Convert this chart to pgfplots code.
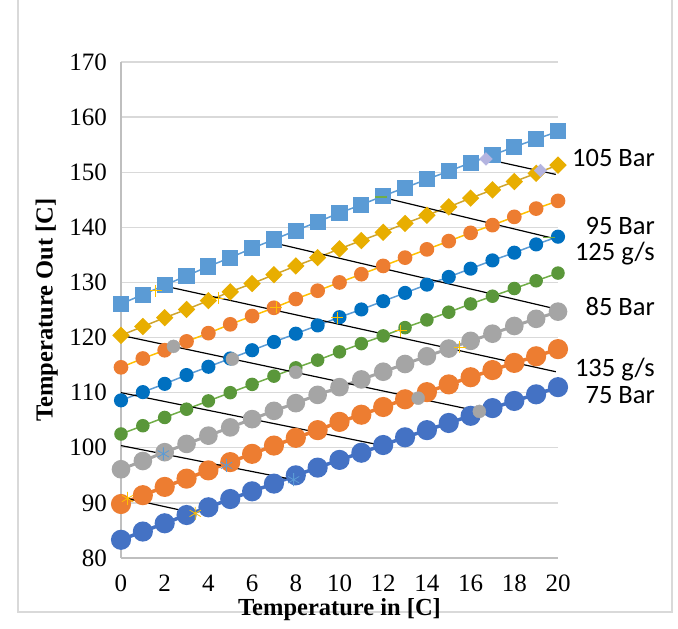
\documentclass[border=0pt]{standalone}
\usepackage{fontspec}
\setmainfont{Liberation Serif}
\newfontfamily\calibri{Carlito}
\usepackage{pgfplots}
\pgfplotsset{compat=1.18}
\definecolor{sA}{HTML}{5B9BD5}
\definecolor{sBm}{HTML}{E8AE00}
\definecolor{sBl}{HTML}{CFA52E}
\definecolor{sCm}{HTML}{ED7D31}
\definecolor{sCl}{HTML}{FFC000}
\definecolor{sDm}{HTML}{0070C0}
\definecolor{sDl}{HTML}{5B9BD5}
\definecolor{sEm}{HTML}{5A973A}
\definecolor{sEl}{HTML}{70AD47}
\definecolor{sF}{HTML}{A5A5A5}
\definecolor{sG}{HTML}{ED7D31}
\definecolor{sH}{HTML}{4472C4}
\definecolor{gridc}{HTML}{D9D9D9}
\definecolor{axc}{HTML}{BFBFBF}
\definecolor{framec}{HTML}{D9D9D9}
\definecolor{lilac}{HTML}{B4B4E0}
\begin{document}
\begin{tikzpicture}
\useasboundingbox (-121pt,-71pt) rectangle (557pt,558pt);
\draw[color=framec, line width=1.5pt] (-103pt,560pt) -- (-103pt,-54pt) -- (551pt,-54pt) -- (551pt,560pt);
\begin{axis}[
  at={(0pt,0pt)}, anchor=south west,
  scale only axis, width=437pt, height=496pt,
  xmin=0, xmax=20, ymin=80, ymax=170,
  xtick={0,2,...,20}, ytick={80,90,...,170},
  axis x line*=bottom, axis y line*=left,
  axis line style={draw=axc, line width=1.5pt},
  major tick length=0pt,
  ymajorgrids, major grid style={color=gridc, line width=1.3pt},
  /pgf/number format/assume math mode=true,
  tick label style={font=\fontsize{25}{28}\selectfont},
  yticklabel style={anchor=east, inner sep=0pt, xshift=-14pt},
  xticklabel style={anchor=north, inner sep=0pt, yshift=-17pt},
  xlabel={Temperature in [C]},
  ylabel={Temperature Out [C]},
  xlabel style={font=\bfseries\fontsize{24.5}{27}\selectfont, at={(axis description cs:0.5,-0.104)}, anchor=center, inner sep=0pt},
  ylabel style={font=\bfseries\fontsize{24.5}{27}\selectfont, at={(axis description cs:-0.17,0.5)}, anchor=center, inner sep=0pt},
  clip=false,
]
% series 1: squares
\addplot[color=sA, line width=1.5pt, mark=square*, mark size=7.3pt, mark options={fill=sA, draw=sA}] coordinates {
(0,126.1)(1,127.8)(2,129.5)(3,131.2)(4,132.9)(5,134.5)(6,136.2)(7,137.8)(8,139.4)(9,141.0)(10,142.6)(11,144.1)(12,145.7)(13,147.2)(14,148.7)(15,150.2)(16,151.7)(17,153.1)(18,154.6)(19,156.0)(20,157.4)};
% series 2: diamonds
\addplot[color=sBl, line width=1.5pt, mark=square*, mark size=5.4pt, mark options={fill=sBm, draw=sBm, rotate=45}] coordinates {
(0,120.4)(1,122.0)(2,123.6)(3,125.1)(4,126.7)(5,128.3)(6,129.8)(7,131.4)(8,133.0)(9,134.5)(10,136.1)(11,137.6)(12,139.1)(13,140.7)(14,142.2)(15,143.7)(16,145.3)(17,146.8)(18,148.3)(19,149.8)(20,151.3)};
% series 3
\addplot[color=sCl, line width=1.5pt, mark=*, mark size=6.6pt, mark options={fill=sCm, draw=sCm}] coordinates {
(0,114.6)(1,116.2)(2,117.7)(3,119.3)(4,120.8)(5,122.4)(6,123.9)(7,125.4)(8,127.0)(9,128.5)(10,130.0)(11,131.5)(12,133.0)(13,134.5)(14,136.0)(15,137.5)(16,139.0)(17,140.4)(18,141.9)(19,143.4)(20,144.8)};
% series 4
\addplot[color=sDl, line width=1.5pt, mark=*, mark size=6.3pt, mark options={fill=sDm, draw=sDm}] coordinates {
(0,108.6)(1,110.1)(2,111.6)(3,113.2)(4,114.7)(5,116.2)(6,117.7)(7,119.2)(8,120.7)(9,122.2)(10,123.7)(11,125.1)(12,126.6)(13,128.1)(14,129.6)(15,131.0)(16,132.5)(17,134.0)(18,135.4)(19,136.9)(20,138.3)};
% series 5
\addplot[color=sEl, line width=1.5pt, mark=*, mark size=6pt, mark options={fill=sEm, draw=sEm}] coordinates {
(0,102.5)(1,104.0)(2,105.5)(3,107.0)(4,108.5)(5,110.0)(6,111.5)(7,113.0)(8,114.5)(9,115.9)(10,117.4)(11,118.9)(12,120.3)(13,121.8)(14,123.2)(15,124.6)(16,126.1)(17,127.5)(18,128.9)(19,130.3)(20,131.7)};
% series 6
\addplot[color=sF, line width=3pt, mark=*, mark size=7.8pt, mark options={fill=sF, draw=sF}] coordinates {
(0,96.1)(1,97.6)(2,99.2)(3,100.7)(4,102.2)(5,103.7)(6,105.2)(7,106.7)(8,108.1)(9,109.6)(10,111.0)(11,112.4)(12,113.8)(13,115.2)(14,116.6)(15,118.0)(16,119.4)(17,120.7)(18,122.1)(19,123.4)(20,124.7)};
% series 7
\addplot[color=sG, line width=3.5pt, mark=*, mark size=8.3pt, mark options={fill=sG, draw=sG}] coordinates {
(0,89.8)(1,91.4)(2,92.9)(3,94.4)(4,95.9)(5,97.4)(6,98.9)(7,100.4)(8,101.8)(9,103.2)(10,104.7)(11,106.0)(12,107.4)(13,108.8)(14,110.1)(15,111.5)(16,112.8)(17,114.1)(18,115.4)(19,116.6)(20,117.9)};
% series 8
\addplot[color=sH, line width=3.5pt, mark=*, mark size=8.3pt, mark options={fill=sH, draw=sH}] coordinates {
(0,83.3)(1,84.8)(2,86.3)(3,87.8)(4,89.2)(5,90.7)(6,92.1)(7,93.5)(8,95.0)(9,96.4)(10,97.8)(11,99.1)(12,100.5)(13,101.9)(14,103.2)(15,104.5)(16,105.8)(17,107.2)(18,108.5)(19,109.7)(20,111.0)};
% isolines
\addplot[only marks, mark=square*, mark size=4.5pt, mark options={fill=lilac, draw=lilac, rotate=45}] coordinates {(16.7,152.4)(19.2,150.3)};
\addplot[black, line width=1.2pt] coordinates {(16.7,152.4)(19.9,149.6)};
\addplot[sEl, line width=1.2pt, only marks, mark=-, mark size=6pt] coordinates {(11.9,145.5)(19.6,138.2)};
\addplot[black, line width=1.2pt] coordinates {(11.9,145.5)(19.9,137.9)};
\addplot[black, line width=1.2pt] coordinates {(6.75,137.4)(19.9,125.2)};
\addplot[sCl, line width=1pt, only marks, mark=+, mark size=6pt] coordinates {(1.6,128.5)(4.45,127.1)(7.1,125.5)(9.9,123.6)(12.8,121.2)(15.5,118.2)};
\addplot[sG, line width=1pt, only marks, mark=+, mark size=6pt] coordinates {(18.0,115.4)};
\addplot[black, line width=1.2pt] coordinates {(1.7,129.6)(19.9,113.8)};
\addplot[sF, only marks, mark=*, mark size=6.5pt] coordinates {(2.4,118.4)(5.1,116.1)(8.0,113.7)(13.6,109.0)(16.4,106.6)};
\addplot[black, line width=1.2pt] coordinates {(0,120.4)(16.4,106.6)};
\addplot[black, line width=1.2pt] coordinates {(0,110.0)(12.1,100.3)};
\addplot[sA, line width=0.8pt, only marks, mark=asterisk, mark size=6.5pt] coordinates {(1.94,98.9)(4.83,96.8)(7.9,94.2)};
\addplot[black, line width=1.2pt] coordinates {(0,100.4)(7.9,94.2)};
\addplot[sCl, line width=0.8pt, only marks, mark=asterisk, mark size=6.5pt] coordinates {(0.3,90.8)(3.4,88.1)};
\addplot[black, line width=1.2pt] coordinates {(0.3,90.8)(3.4,88.1)};
% labels
\begin{scope}[every node/.style={anchor=east, inner sep=0pt, text height=0.64em, text depth=0pt, font=\calibri\fontsize{26.5}{29}\selectfont}]
\node at (axis cs:24.44,151.7) {105 Bar};
\node at (axis cs:24.44,139.3) {95 Bar};
\node at (axis cs:24.44,134.6) {125 g/s};
\node at (axis cs:24.44,124.5) {85 Bar};
\node at (axis cs:24.44,113.6) {135 g/s};
\node at (axis cs:24.44,108.7) {75 Bar};
\end{scope}
\end{axis}
\end{tikzpicture}
\end{document}
